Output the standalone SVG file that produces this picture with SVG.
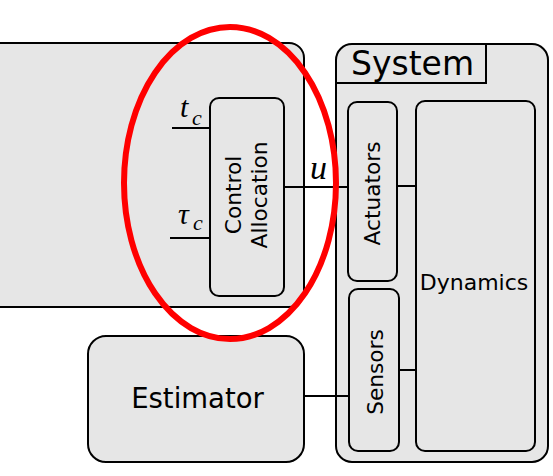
<svg xmlns="http://www.w3.org/2000/svg" width="553" height="476" viewBox="0 0 553 476">
<style>
.box{fill:#e6e6e6;stroke:#000;stroke-width:2}
.wire{fill:none;stroke:#000;stroke-width:2}
.lbl{font-family:"DejaVu Sans",sans-serif;fill:#000}
.math{font-family:"Liberation Serif",serif;font-style:italic;fill:#000}
</style>
<rect width="553" height="476" fill="#fff"/>
<g id="controller">
<path class="box" d="M -2 43 H 289 A 15 15 0 0 1 304 58 V 292 A 15 15 0 0 1 289 307 H -2 Z"/>
</g>
<g id="control-allocation">
<rect class="box" x="210" y="98" width="74" height="198" rx="9"/>
<text class="lbl" font-size="21.7" text-anchor="middle" transform="translate(241 195) rotate(-90)">Control</text>
<text class="lbl" font-size="21.7" text-anchor="middle" transform="translate(267 195) rotate(-90)">Allocation</text>
</g>
<g id="system">
<rect class="box" x="336" y="44" width="212" height="418" rx="16"/>
<path class="wire" d="M 336 83 H 486 V 44"/>
<text class="lbl" font-size="33" x="351" y="75">System</text>
</g>
<g id="actuators">
<rect class="box" x="348" y="102" width="49" height="179" rx="9"/>
<text class="lbl" font-size="21.7" text-anchor="middle" transform="translate(380 193.5) rotate(-90)">Actuators</text>
</g>
<g id="dynamics">
<rect class="box" x="416" y="101" width="119" height="350" rx="9"/>
<text class="lbl" font-size="22" text-anchor="middle" x="474" y="290">Dynamics</text>
</g>
<g id="sensors">
<rect class="box" x="349" y="289" width="50" height="162" rx="9"/>
<text class="lbl" font-size="21.7" text-anchor="middle" transform="translate(383 372) rotate(-90)">Sensors</text>
</g>
<g id="estimator">
<rect class="box" x="88" y="336" width="216" height="126" rx="18"/>
<text class="lbl" font-size="27.5" text-anchor="middle" x="197.5" y="408">Estimator</text>
</g>
<g id="connectors">
<path class="wire" d="M 172 128 H 210"/>
<path class="wire" d="M 170 238 H 210"/>
<path class="wire" d="M 284 187 H 348"/>
<path class="wire" d="M 397 186 H 416"/>
<path class="wire" d="M 399 370 H 416"/>
<path class="wire" d="M 304 396 H 349"/>
<text class="math" font-size="30" x="180" y="117">t</text>
<text class="math" font-size="22" x="192" y="125">c</text>
<text class="math" font-size="30" x="178" y="224">τ</text>
<text class="math" font-size="22" x="193" y="230">c</text>
<text class="math" font-size="34" x="310" y="179">u</text>
</g>
<ellipse cx="230" cy="183" rx="106" ry="156" fill="none" stroke="#f00" stroke-width="6"/>
</svg>
